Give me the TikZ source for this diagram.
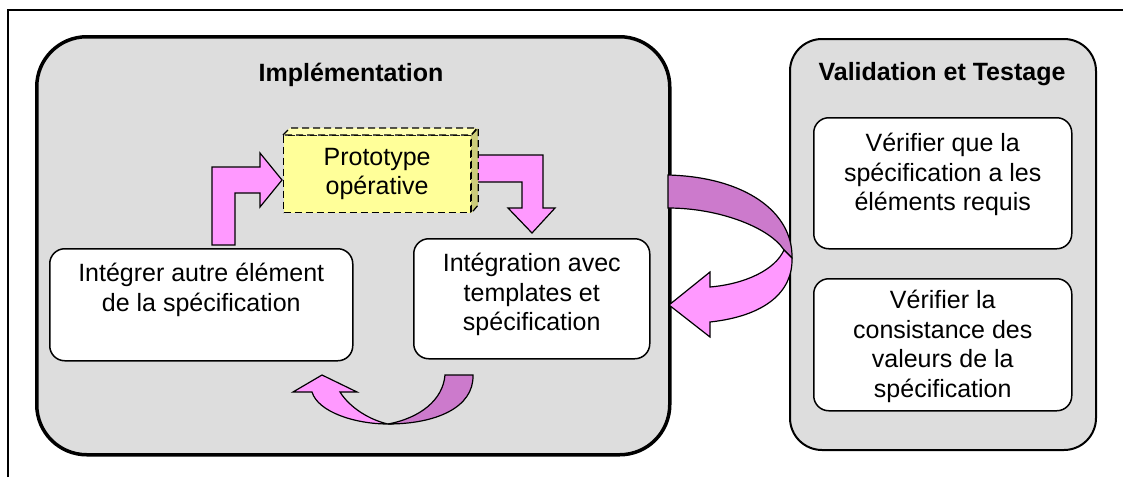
\documentclass[tikz,border=0pt]{standalone}
\usepackage{fontspec}
\setmainfont{Liberation Sans}
\usetikzlibrary{positioning}
\definecolor{panelgray}{HTML}{DDDDDD}
\definecolor{pinklight}{HTML}{FF99FF}
\definecolor{pinkdark}{HTML}{CC7ACC}
\definecolor{protoyellow}{HTML}{FFFF99}
\definecolor{protoside}{HTML}{CCCC7A}
\definecolor{prototop}{HTML}{FFFFB3}
\begin{document}
\begin{tikzpicture}[x=1pt,y=-1pt,
  panel/.style={draw, fill=panelgray, rectangle, rounded corners=#1, anchor=north west, inner sep=0pt},
  title/.style={font=\fontsize{25}{29.5}\selectfont\bfseries, anchor=base},
  box/.style={draw, fill=white, rectangle, rounded corners=15pt, line width=1.5pt, anchor=north west, inner sep=0pt},
  txt/.style={font=\fontsize{25}{29.5}\selectfont, align=center, inner sep=0pt, anchor=north},
  dashbox/.style={draw, dashed, dash pattern=on 7pt off 4pt, line width=1.2pt},
  ribbon/.style={draw, line width=1.2pt}]
\useasboundingbox (0,0) rectangle (1125,477);
\draw[line width=2pt] (8,477) -- (8,10) -- (1123,10);

\node[panel=50pt, line width=3.5pt, minimum width=633pt, minimum height=418pt] (impl) at (35,35) {};
\node[title] (impltitle) at (351,81) {Implémentation};
\node[panel=32pt, line width=2pt, minimum width=306pt, minimum height=411pt] (valid) at (789,38) {};
\node[title] (validtitle) at (942,80) {Validation et Testage};

\node[box, minimum width=303pt, minimum height=112pt] (integ) at (49,248) {};
\node[txt, below=15pt of integ.north] (integtxt) {Intégrer autre élément\\de la spécification};
\node[box, minimum width=236pt, minimum height=120pt] (tmpl) at (413,238) {};
\node[txt, below=15pt of tmpl.north] (tmpltxt) {Intégration avec\\templates et\\spécification};
\node[box, minimum width=258pt, minimum height=131pt] (req) at (813,117) {};
\node[txt, below=16pt of req.north] (reqtxt) {Vérifier que la\\spécification a les\\éléments requis};
\node[box, minimum width=258pt, minimum height=132pt] (cons) at (813,278) {};
\node[txt, below=12pt of cons.north] (constxt) {Vérifier la\\consistance des\\valeurs de la\\spécification};

% bent arrows round the prototype
\path[ribbon, fill=pinklight] (212,245) -- (212,167) -- (260,167) -- (260,153) -- (282,180)
  -- (260,207) -- (260,193) -- (235,193) -- (235,245) -- cycle;
\path[ribbon, fill=pinklight] (470,155) -- (543,155) -- (543,208) -- (555,208) -- (532,233)
  -- (508,208) -- (522,208) -- (522,182) -- (470,182) -- cycle;

\node[dashbox, fill=protoyellow, minimum width=187pt, minimum height=77pt, anchor=north west,
  font=\fontsize{25}{29.5}\selectfont, align=center, inner sep=0pt] (proto) at (283,135) {Prototype\\opérative};
\path[dashbox, fill=protoside] (proto.north east) -- ++(7,-7) -- ++(0,77) -- (proto.south east) -- cycle;
\path[dashbox, fill=prototop] (proto.north west) -- ++(7,-7) -- ++(187,0) -- (proto.north east) -- cycle;

% U-turn under the boxes
\path[ribbon, fill=pinkdark] (445,375) -- (473,375) .. controls (474,408) and (435,424) .. (388,424)
  .. controls (420,418) and (443,400) .. (445,375) -- cycle;
\path[ribbon, fill=pinklight] (388,424) .. controls (355,424) and (318,412) .. (312,392) -- (293,392)
  -- (322,375) -- (357,392) -- (340,392) .. controls (350,408) and (370,420) .. (388,424) -- cycle;

% curved arrow back from validation
\path[ribbon, fill=pinkdark] (668,175) .. controls (745,177) and (793,212) .. (792,258) -- (784,250)
  .. controls (770,228) and (720,208) .. (668,208) -- cycle;
\path[ribbon, fill=pinklight] (784,250) .. controls (775,270) and (745,284) .. (710,287) -- (710,272)
  -- (669,305) -- (710,337) -- (710,322) .. controls (765,316) and (793,292) .. (792,258) -- cycle;
\end{tikzpicture}
\end{document}
